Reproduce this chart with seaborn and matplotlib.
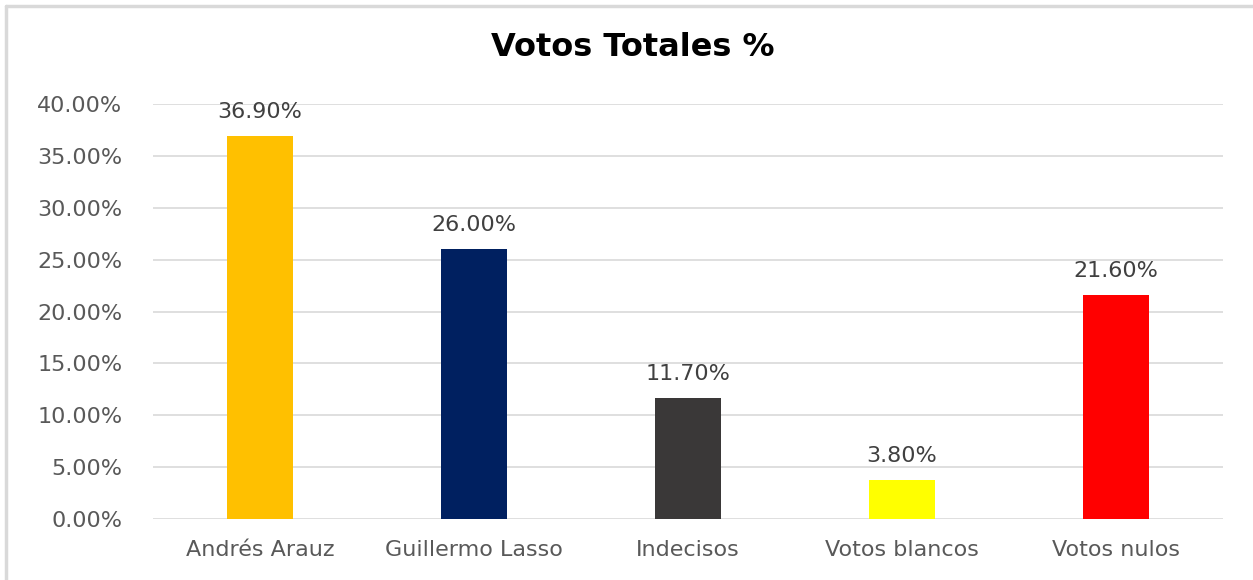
import matplotlib
matplotlib.use("Agg")
import matplotlib.pyplot as plt
import matplotlib.lines as mlines
import seaborn as sns
import pandas as pd

# datos del gráfico
categorias = ["Andrés Arauz", "Guillermo Lasso", "Indecisos", "Votos blancos", "Votos nulos"]
valores = [36.90, 26.00, 11.70, 3.80, 21.60]
colores = ["#FFC000", "#002060", "#3A3838", "#FFFF00", "#FF0000"]
y_ticks = [0, 5, 10, 15, 20, 25, 30, 35, 40]

df = pd.DataFrame({"Categoria": categorias, "Valor": valores})

sns.set_theme(style="white")
plt.rcParams['font.family'] = ['DejaVu Sans']

fig = plt.figure(figsize=(12.53, 5.8), dpi=100)
ax = fig.add_axes([153 / 1253, 1 - 519 / 580, (1223 - 153) / 1253, (519 - 104) / 580])

sns.barplot(data=df, x="Categoria", y="Valor", hue="Categoria", palette=colores,
            width=0.31, legend=False, saturation=1, linewidth=0, ax=ax)

ax.set_ylim(0, 40)
ax.set_xlim(-0.5, 4.5)
ax.set_yticks(y_ticks)
ax.set_yticklabels([f"{t:.2f}%" for t in y_ticks], color="#595959", fontsize=16)
ax.tick_params(axis="x", colors="#595959", labelsize=16, length=0, pad=15)
ax.tick_params(axis="y", length=0, pad=22)
ax.set_xlabel("")
ax.set_ylabel("")
ax.yaxis.grid(True, color="#D9D9D9", linewidth=1.2)
ax.set_axisbelow(True)
for s in ax.spines.values():
    s.set_visible(False)

# etiquetas de valores
for i, v in enumerate(valores):
    ax.annotate(f"{v:.2f}%", (i, v), xytext=(0, 10), textcoords="offset points",
                ha="center", va="bottom", fontsize=16, color="#404040")

fig.text(633 / 1253, 1 - 48 / 580, "Votos Totales %", ha="center", va="center",
         fontsize=23, fontweight="bold", color="black")

# borde del gráfico (arriba e izquierda)
fig.add_artist(mlines.Line2D([6 / 1253, 1], [1 - 6 / 580, 1 - 6 / 580], color="#D9D9D9", linewidth=2.5))
fig.add_artist(mlines.Line2D([6 / 1253, 6 / 1253], [0, 1 - 6 / 580], color="#D9D9D9", linewidth=2.5))

fig.savefig("out.png", dpi=100)
